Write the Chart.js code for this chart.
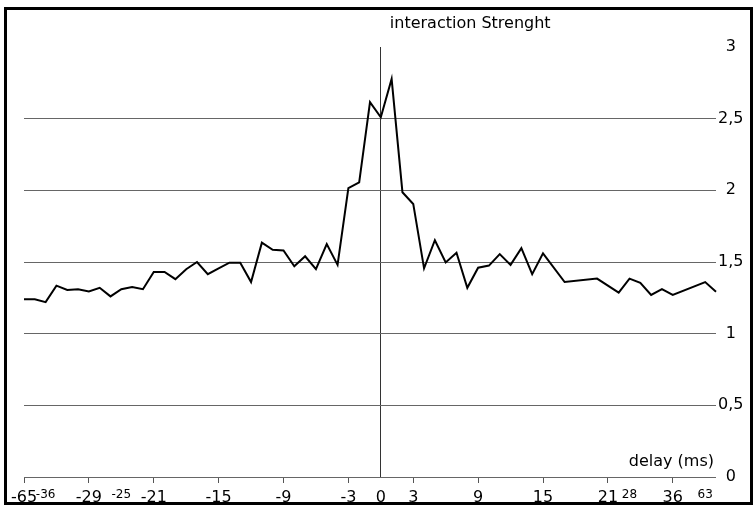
<!DOCTYPE html>
<html>
<head>
<meta charset="utf-8">
<script src="https://cdn.jsdelivr.net/npm/chart.js@4.4.0/dist/chart.umd.min.js"></script>
<style>
  html, body { margin: 0; padding: 0; background: #fff; }
  #wrap { position: relative; width: 754px; height: 506px; }
</style>
</head>
<body>
<div id="wrap"><canvas id="chart"></canvas></div>
<script>
// ─── DATA ─────────────────────────────────────────────────
const titleText = 'interaction Strenght';
const xTitle = 'delay (ms)';

// one entry per category, '' where the axis shows no label
const delayLabels = [
  '-65', '', '-36', '', '', '', '-29', '', '', '-25',
  '', '', '-21', '', '', '', '', '', '-15', '',
  '', '', '', '', '-9', '', '', '', '', '',
  '-3', '', '', '0', '', '', '3', '', '', '',
  '', '', '9', '', '', '', '', '', '15', '',
  '', '', '', '', '21', '', '28', '', '', '',
  '36', '', '', '63', ''
];
const smallLabels = ['-36', '-25', '28', '63'];

const strength = [
  1.24, 1.24, 1.22, 1.335, 1.305, 1.31, 1.295, 1.32, 1.26, 1.31,
  1.325, 1.31, 1.43, 1.43, 1.38, 1.45, 1.50, 1.415, 1.455, 1.495,
  1.495, 1.36, 1.635, 1.585, 1.58, 1.47, 1.54, 1.45, 1.625, 1.48,
  2.015, 2.055, 2.615, 2.51, 2.777, 1.987, 1.905, 1.456, 1.652, 1.497,
  1.565, 1.32, 1.46, 1.475, 1.555, 1.48, 1.596, 1.415, 1.56, null,
  1.36, null, null, 1.384, null, 1.286, 1.384, 1.354, 1.27, 1.31,
  1.27, null, null, 1.36, 1.293
];

const yMin = 0, yMax = 3, yStep = 0.5;

const FONT = 'DejaVu Sans';
const zeroIndex = delayLabels.indexOf('0');
const clear = 'rgba(0,0,0,0)';

// ─── FRAME + FREE TEXT ────────────────────────────────────
const annotations = {
  id: 'annotations',
  afterDraw(chart) {
    const { ctx, chartArea, scales } = chart;
    ctx.save();
    ctx.fillStyle = '#000';
    ctx.font = `16px "${FONT}"`;
    ctx.textBaseline = 'alphabetic';
    ctx.textAlign = 'left';
    ctx.fillText(titleText, scales.x.getPixelForValue(zeroIndex) + 9, 28);
    ctx.textAlign = 'right';
    ctx.fillText(xTitle, chartArea.right - 2, chartArea.bottom - 11);
    ctx.lineWidth = 3;
    ctx.strokeStyle = '#000';
    ctx.strokeRect(5.5, 8.5, 746, 495);
    ctx.restore();
  }
};

// ─── CHART ────────────────────────────────────────────────
new Chart(document.getElementById('chart'), {
  type: 'line',
  data: {
    labels: delayLabels,
    datasets: [{
      data: strength,
      borderColor: '#000',
      borderWidth: 2,
      pointRadius: 0,
      tension: 0,
      spanGaps: true,
      fill: false
    }]
  },
  options: {
    responsive: true,
    maintainAspectRatio: false,
    animation: false,
    layout: { padding: { left: 24, top: 47, right: 12, bottom: 0 } },
    plugins: {
      legend: { display: false },
      tooltip: { enabled: false }
    },
    scales: {
      x: {
        border: { display: false },
        grid: {
          color: ctx => ctx.index === zeroIndex ? '#333' : clear,
          tickColor: ctx => ctx.index % 6 === 0 ? '#555' : clear,
          tickLength: 6,
          lineWidth: 1
        },
        ticks: {
          autoSkip: false,
          maxRotation: 0,
          minRotation: 0,
          padding: 5,
          color: '#000',
          font: ctx => ({
            family: FONT,
            size: smallLabels.includes(delayLabels[ctx.index]) ? 12 : 16
          })
        },
        afterFit: scale => { scale.height = 29; }
      },
      y: {
        position: 'right',
        min: yMin,
        max: yMax,
        border: { display: false },
        grid: {
          drawTicks: false,
          color: ctx => ctx.tick.value === yMax ? clear : '#666',
          lineWidth: 1
        },
        ticks: {
          stepSize: yStep,
          padding: 2,
          crossAlign: 'center',
          color: '#000',
          font: { family: FONT, size: 16 },
          callback: v => String(v).replace('.', ',')
        },
        afterFit: scale => { scale.width = 26; }
      }
    }
  },
  plugins: [annotations]
});
</script>
</body>
</html>
